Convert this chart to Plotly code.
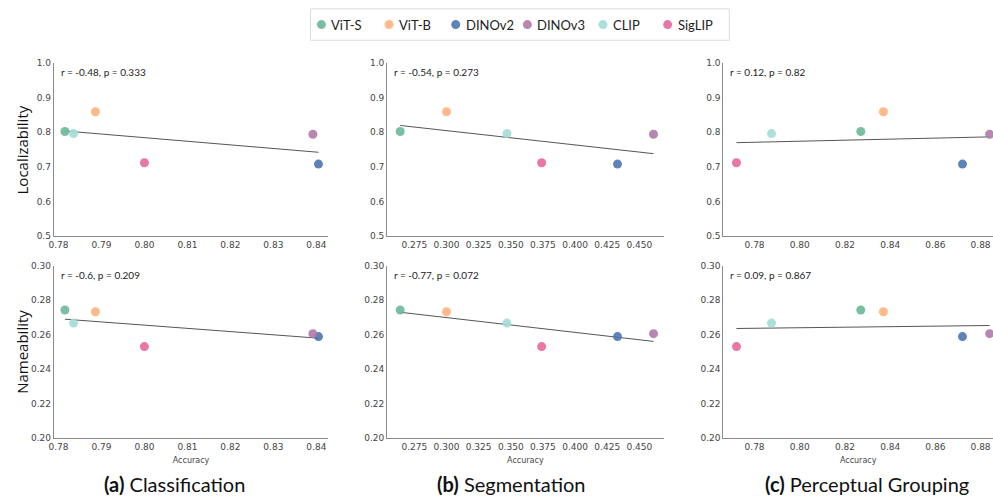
import numpy as np
import plotly.graph_objects as go

# Models and their colours
models = ["ViT-S", "ViT-B", "DINOv2", "DINOv3", "CLIP", "SigLIP"]
colors = ["#6cb89a", "#ffb27f", "#4b76b0", "#b07aa9", "#a3dbd7", "#e5679d"]

# Probe scores per model
localizability = [0.802, 0.859, 0.708, 0.794, 0.796, 0.712]
nameability = [0.2743, 0.2733, 0.2589, 0.2606, 0.2667, 0.2531]

# Downstream accuracy per model and task
acc_classification = [0.7815, 0.7886, 0.8405, 0.8392, 0.7835, 0.8000]
acc_segmentation = [0.264, 0.300, 0.433, 0.461, 0.347, 0.374]
acc_grouping = [0.827, 0.837, 0.872, 0.884, 0.7875, 0.772]

tasks = ["Classification", "Segmentation", "Perceptual Grouping"]
task_letters = ["(a)", "(b)", "(c)"]
task_acc = [acc_classification, acc_segmentation, acc_grouping]

# Correlation statistics printed on each panel (rows: localizability, nameability)
stats_loc = ["r = -0.48, p = 0.333", "r = -0.54, p = 0.273", "r = 0.12, p = 0.82"]
stats_name = ["r = -0.6, p = 0.209", "r = -0.77, p = 0.072", "r = 0.09, p = 0.867"]

# Axis ticks
x_ticks = [
    [0.78, 0.79, 0.80, 0.81, 0.82, 0.83, 0.84],
    [0.275, 0.300, 0.325, 0.350, 0.375, 0.400, 0.425, 0.450],
    [0.78, 0.80, 0.82, 0.84, 0.86, 0.88],
]
x_fmt = [".2f", ".3f", ".2f"]
x_ranges = [[0.7789, 0.8428], [0.2538, 0.4689], [0.7662, 0.8855]]
y_ticks_loc = [0.5, 0.6, 0.7, 0.8, 0.9, 1.0]
y_ticks_name = [0.20, 0.22, 0.24, 0.26, 0.28, 0.30]

W, H = 993, 500
col_px = [(49, 325), (384, 662), (722, 993)]
row_px = [(59, 236), (266, 442)]  # top, bottom in pixels

fig = go.Figure()

rows = [
    ("Localizability", localizability, stats_loc, y_ticks_loc, ".1f", [0.5, 1.0]),
    ("Nameability", nameability, stats_name, y_ticks_name, ".2f", [0.20, 0.30]),
]

tick_font = dict(family="DejaVu Sans", size=9, color="#444444")
ax_idx = 0
for r, (ylabel, yvals, stats, yt, yfmt, yr) in enumerate(rows):
    for c in range(3):
        ax_idx += 1
        xa = "x" if ax_idx == 1 else f"x{ax_idx}"
        ya = "y" if ax_idx == 1 else f"y{ax_idx}"
        xs = np.array(task_acc[c])
        ys = np.array(yvals)

        # least-squares trend line over the data span
        slope, intercept = np.polyfit(xs, ys, 1)
        lx = np.array([xs.min(), xs.max()])
        fig.add_trace(go.Scatter(
            x=lx, y=slope * lx + intercept, mode="lines",
            line=dict(color="#555555", width=1), showlegend=False,
            hoverinfo="skip", xaxis=xa, yaxis=ya))

        for m, col, xv, yv in zip(models, colors, xs, ys):
            fig.add_trace(go.Scatter(
                x=[xv], y=[yv], mode="markers", name=m,
                marker=dict(color=col, size=9, opacity=0.9, line=dict(width=0)),
                showlegend=False, legendgroup=m,
                xaxis=xa, yaxis=ya, cliponaxis=False))

        x0, x1 = col_px[c]
        y0, y1 = row_px[r]
        xdom = [x0 / W, x1 / W]
        ydom = [1 - y1 / H, 1 - y0 / H]
        xkey = "xaxis" if ax_idx == 1 else f"xaxis{ax_idx}"
        ykey = "yaxis" if ax_idx == 1 else f"yaxis{ax_idx}"
        fig.update_layout(**{
            xkey: dict(
                domain=xdom, range=x_ranges[c], anchor=ya,
                tickvals=x_ticks[c], tickformat=x_fmt[c],
                showgrid=False, zeroline=False, showline=True,
                linecolor="#8a8a8a", linewidth=1, ticks="",
                tickfont=tick_font,
                title=dict(text="Accuracy" if r == 1 else "",
                           font=dict(family="DejaVu Sans", size=8, color="#444444"),
                           standoff=6),
            ),
            ykey: dict(
                domain=ydom, range=yr, anchor=xa,
                tickvals=yt, tickformat=yfmt,
                showgrid=False, zeroline=False, showline=True,
                linecolor="#8a8a8a", linewidth=1, ticks="",
                tickfont=tick_font,
            ),
        })

        # correlation text in the upper-left corner of each panel
        fig.add_annotation(
            x=(x0 + 5) / W, y=1 - (y0 + 9) / H, xref="paper", yref="paper",
            text=stats[c], showarrow=False, xanchor="left", yanchor="middle",
            font=dict(family="Lato", size=10, color="#222222"))

    # row label
    fig.add_annotation(
        x=17 / W, y=1 - (sum(row_px[r]) / 2) / H, xref="paper", yref="paper",
        text=ylabel, textangle=-90, showarrow=False,
        xanchor="center", yanchor="middle",
        font=dict(family="Open Sans", size=15, color="#111111"))

# panel captions
caption_x = [170, 509, 866]
for c in range(3):
    fig.add_annotation(
        x=caption_x[c] / W, y=1 - 489 / H, xref="paper", yref="paper",
        text=f"<b>{task_letters[c]}</b> {tasks[c]}", showarrow=False,
        xanchor="center", yanchor="middle",
        font=dict(family="Lato", size=20, color="#111111"))

# legend strip across the top: frame, colour dots and model names
legend_dot_px = [318, 386, 453, 525, 601, 666]
legend_y = 1 - 20 / H
fig.add_shape(type="rect", xref="paper", yref="paper",
              x0=307 / W, x1=728 / W, y0=1 - 36 / H, y1=1 - 4 / H,
              line=dict(color="#dcdcdc", width=1), fillcolor="white", layer="below")
for m, col, px in zip(models, colors, legend_dot_px):
    fig.add_shape(type="circle", xref="paper", yref="paper",
                  xsizemode="pixel", ysizemode="pixel",
                  xanchor=px / W, yanchor=legend_y,
                  x0=-4.5, x1=4.5, y0=-4.5, y1=4.5,
                  line=dict(width=0), fillcolor=col, opacity=0.9)
    fig.add_annotation(
        x=(px + 8) / W, y=legend_y, xref="paper", yref="paper",
        text=m, showarrow=False, xanchor="left", yanchor="middle",
        font=dict(family="Lato", size=13, color="#222222"))

fig.update_layout(
    width=W, height=H,
    margin=dict(l=0, r=0, t=0, b=0),
    paper_bgcolor="white", plot_bgcolor="white",
    showlegend=False,
)

fig.write_html("out.html")
